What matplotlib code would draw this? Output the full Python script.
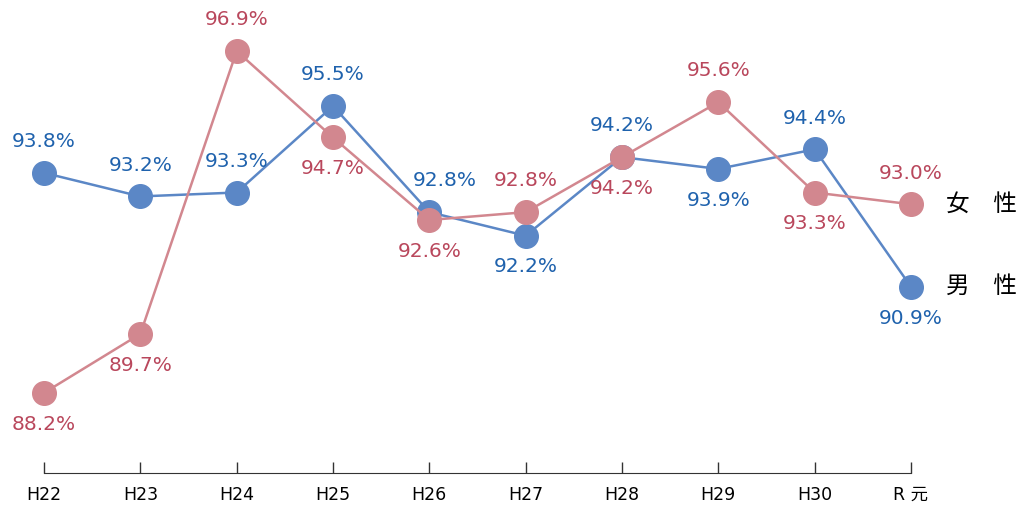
import matplotlib.pyplot as plt

plt.rcParams['font.family'] = ['DejaVu Sans', 'Noto Sans CJK JP']

years = ['H22', 'H23', 'H24', 'H25', 'H26', 'H27', 'H28', 'H29', 'H30', 'R 元']
male = [93.8, 93.2, 93.3, 95.5, 92.8, 92.2, 94.2, 93.9, 94.4, 90.9]
female = [88.2, 89.7, 96.9, 94.7, 92.6, 92.8, 94.2, 95.6, 93.3, 93.0]
# +1: label above the point, -1: below
male_side = [1, 1, 1, 1, 1, -1, 1, -1, 1, -1]
female_side = [-1, -1, 1, -1, -1, 1, -1, 1, -1, 1]

blue_line, blue_text = '#5b87c6', '#1f62ad'
pink_line, pink_text = '#d2878f', '#b9475c'

fig = plt.figure(figsize=(10.23, 5.07), dpi=100)
ax = fig.add_axes([0, 34 / 507, 1, 1 - 34 / 507])

x = range(len(years))
ax.plot(x, male, color=blue_line, lw=1.8, marker='o', ms=17, zorder=2)
ax.plot(x, female, color=pink_line, lw=1.8, marker='o', ms=17, zorder=3)

for i, (v, s) in enumerate(zip(male, male_side)):
    dx = 11 if i == 4 else 0
    ax.annotate(f'{v:.1f}%', (i, v), xytext=(dx, 22.5 * s), textcoords='offset points',
                ha='center', va='center', fontsize=14.5, color=blue_text)
for i, (v, s) in enumerate(zip(female, female_side)):
    ax.annotate(f'{v:.1f}%', (i, v), xytext=(0, 22.5 * s), textcoords='offset points',
                ha='center', va='center', fontsize=14.5, color=pink_text)

ax.annotate('女　性', (9, female[-1]), xytext=(25, 0), textcoords='offset points',
            ha='left', va='center', fontsize=17, family=['Noto Sans CJK JP'])
ax.annotate('男　性', (9, male[-1]), xytext=(25, 0), textcoords='offset points',
            ha='left', va='center', fontsize=17, family=['Noto Sans CJK JP'])

ax.set_xlim(-0.457, 10.163)
ax.set_ylim(86.16, 98.2)
ax.set_xticks(list(x))
ax.set_xticklabels(years, fontsize=12.5)
ax.set_yticks([])
ax.tick_params(axis='x', direction='in', length=8, width=1, color='#333333', pad=9)
for side in ['top', 'right', 'left']:
    ax.spines[side].set_visible(False)
ax.spines['bottom'].set_bounds(0, 9)
ax.spines['bottom'].set_color('#333333')
ax.patch.set_alpha(0)

fig.savefig('out.png', dpi=100)
